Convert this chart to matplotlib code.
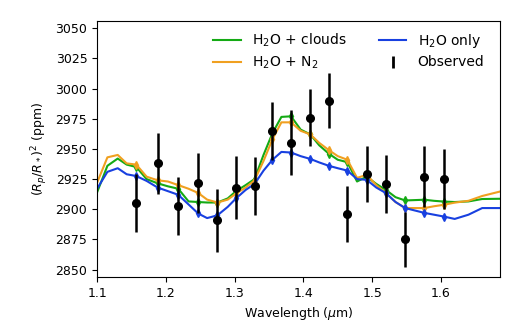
import numpy as np
import matplotlib
matplotlib.use("Agg")
import matplotlib.pyplot as plt
from matplotlib.lines import Line2D

# Observed transit depths
obs_wave = [1.157, 1.188, 1.218, 1.247, 1.275, 1.302, 1.329, 1.355, 1.382,
            1.410, 1.437, 1.464, 1.492, 1.520, 1.548, 1.576, 1.604]
obs_depth = [2905, 2938, 2903, 2922, 2891, 2918, 2919, 2965, 2955,
             2976, 2990, 2896, 2929, 2921, 2875, 2927, 2925]
obs_err = [24, 25, 24, 25, 26, 26, 24, 24, 27,
           24, 23, 23, 23, 24, 23, 25, 25]

# Model spectra on a common wavelength grid (includes the observed bins)
model_wave = [1.100, 1.115, 1.130, 1.143, 1.157, 1.172, 1.188, 1.203, 1.218,
              1.233, 1.247, 1.260, 1.275, 1.290, 1.302, 1.316, 1.329, 1.342,
              1.355, 1.368, 1.382, 1.396, 1.410, 1.423, 1.437, 1.450, 1.464,
              1.478, 1.492, 1.506, 1.520, 1.534, 1.548, 1.562, 1.576, 1.590,
              1.604, 1.620, 1.640, 1.660, 1.686]
clouds = [2914, 2936, 2942, 2937, 2935, 2925, 2921.5, 2919, 2917,
          2906.5, 2906, 2905.6, 2905.6, 2909, 2915, 2920, 2925, 2945,
          2963, 2976.5, 2977, 2966, 2962, 2953, 2946, 2941, 2939,
          2923, 2927, 2921, 2916, 2910, 2907.3, 2907.6, 2907.9, 2907,
          2906.4, 2906, 2906.5, 2908.5, 2908.7]
n2 = [2922, 2943, 2945, 2938, 2937, 2927, 2924, 2923, 2920,
      2917, 2913.5, 2908, 2905.6, 2908, 2913, 2918, 2924, 2940,
      2958, 2972, 2972, 2965, 2962, 2955, 2949, 2944, 2941,
      2926, 2928.5, 2920, 2913.4, 2906, 2901, 2901, 2901, 2902.5,
      2903.7, 2905.5, 2907, 2911, 2914.7]
h2o_only = [2917, 2931, 2934, 2929, 2927.5, 2923.5, 2918, 2915, 2912,
            2904, 2896.5, 2892.7, 2895, 2902, 2909, 2916, 2921, 2932,
            2941, 2947.5, 2947, 2944, 2941.7, 2938.8, 2936, 2934, 2932,
            2925, 2924.4, 2918, 2913.4, 2906, 2901, 2899, 2897, 2895.5,
            2894, 2892, 2895.5, 2901, 2901]

models = [(clouds, "#14aa14", r"H$_2$O + clouds"),
          (n2, "#f0a020", r"H$_2$O + N$_2$"),
          (h2o_only, "#1840e0", r"H$_2$O only")]

bins = [model_wave.index(w) for w in obs_wave]

fig = plt.figure(figsize=(5.22, 3.32), dpi=100)
ax = fig.add_axes([0.186, 0.166, 0.772, 0.771])

handles, labels = [], []
for depth, color, label in models:
    ax.plot(model_wave, depth, color=color, lw=1.5, marker="d", ms=4,
            markevery=bins)
    handles.append(Line2D([], [], color=color, lw=1.5))
    labels.append(label)

ax.errorbar(obs_wave, obs_depth, yerr=obs_err, fmt="o", color="k",
            ms=5.5, elinewidth=1.8, capsize=0, zorder=5)

handles.append(Line2D([], [], color="k", marker="|", ls="none",
                      ms=8, mew=2))
labels.append("Observed")
ax.legend(handles, labels, ncol=2, frameon=False, loc="upper right",
          bbox_to_anchor=(0.985, 0.995), fontsize=10, borderaxespad=0.3,
          handletextpad=0.8, columnspacing=2.3, labelspacing=0.4)

ax.set_xlim(1.1, 1.686)
ax.set_ylim(2844, 3056)
ax.set_xticks([1.1, 1.2, 1.3, 1.4, 1.5, 1.6])
ax.set_yticks(np.arange(2850, 3051, 25))
ax.tick_params(labelsize=9)
ax.set_xlabel(r"Wavelength ($\mu$m)", fontsize=9)
ax.set_ylabel(r"$(R_p/R_*)^2$ (ppm)", fontsize=9)

fig.savefig("out.png", dpi=100)
